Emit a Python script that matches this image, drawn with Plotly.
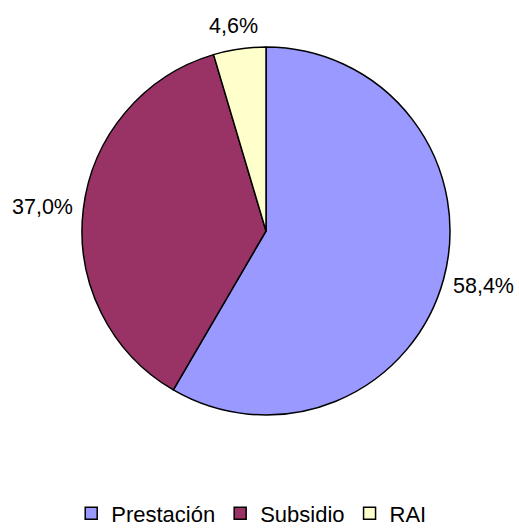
import math
import plotly.graph_objects as go

categories = ["Prestación", "Subsidio", "RAI"]
shares = [58.4, 37.0, 4.6]
colors = ["#9999FF", "#993366", "#FFFFCC"]

W, H = 519, 528
cx, cy, R = 266, 231, 184  # pie centre and radius in pixels

fig = go.Figure(
    go.Pie(
        labels=categories,
        values=shares,
        sort=False,
        direction="clockwise",
        rotation=0,
        textinfo="none",
        hoverinfo="label+percent",
        marker=dict(colors=colors, line=dict(color="#000000", width=1.5)),
        domain=dict(x=[(cx - R) / W, (cx + R) / W],
                    y=[(H - cy - R) / H, (H - cy + R) / H]),
    )
)

# percentage labels placed outside each slice along its middle angle
total = sum(shares)
acc = 0.0
lx, ly, rx, ry = 266, 232, 225, 208
for v in shares:
    mid = (acc + v / 2) / total * 2 * math.pi
    acc += v
    px = lx + rx * math.sin(mid)
    py = ly - ry * math.cos(mid)
    fig.add_annotation(
        x=px / W, y=1 - py / H, xref="paper", yref="paper",
        text=f"{v:.1f}%".replace(".", ","), showarrow=False,
        xanchor="center", yanchor="middle",
        font=dict(family="Liberation Sans, Arial", size=21.5, color="#000000"),
    )

fig.update_layout(
    width=W, height=H,
    margin=dict(l=0, r=0, t=0, b=0, autoexpand=False),
    paper_bgcolor="white",
    plot_bgcolor="white",
    showlegend=True,
    legend=dict(orientation="h", x=0.485, xanchor="center", y=-0.012, yanchor="bottom",
                font=dict(family="Liberation Sans, Arial", size=22, color="#000000"),
                itemwidth=30, tracegroupgap=0, borderwidth=0),
    font=dict(family="Liberation Sans, Arial"),
)

fig.write_html("out.html")
